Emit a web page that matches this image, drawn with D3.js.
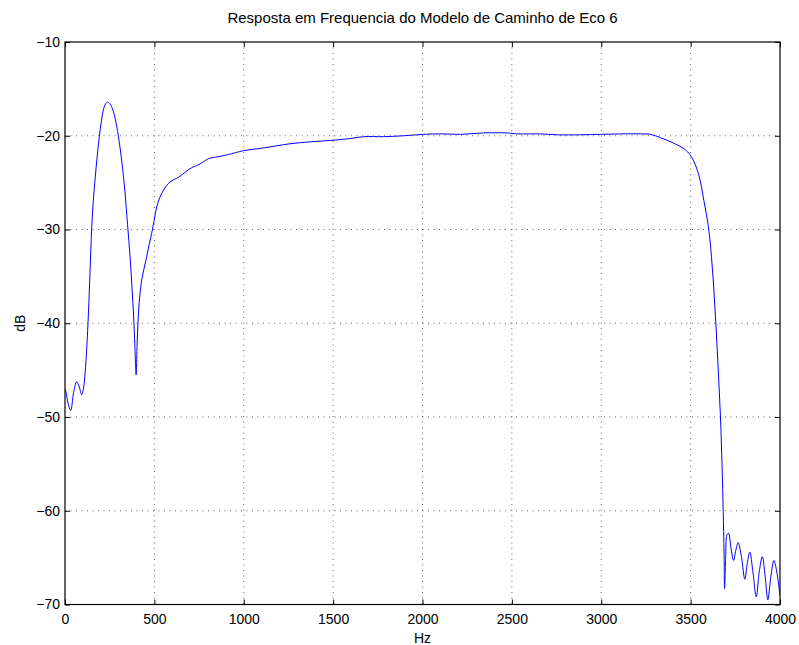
<!DOCTYPE html>
<html>
<head>
<meta charset="utf-8">
<script src="https://cdn.jsdelivr.net/npm/d3@7/dist/d3.min.js"></script>
<style>
  html, body { margin: 0; padding: 0; background: #fff; }
  svg { display: block; }
  text { font-family: "Liberation Sans", Arial, Helvetica, sans-serif; fill: #000; }
</style>
</head>
<body>
<svg id="chart" width="799" height="645"></svg>
<script>
const title = "Resposta em Frequencia do Modelo de Caminho de Eco 6";
const xLabel = "Hz";
const yLabel = "dB";
const xTicks = [0, 500, 1000, 1500, 2000, 2500, 3000, 3500, 4000];
const yTicks = [-70, -60, -50, -40, -30, -20, -10];

const freq = [0, 5, 18, 32, 48, 65, 80, 93, 103, 112, 122, 131, 140, 149, 158, 168, 180, 192, 203, 214, 227, 239, 250, 261, 280, 299, 318, 336, 350, 364, 374, 383, 391, 398, 404, 411, 420, 429, 443, 457, 471, 485, 499, 513, 530, 551, 578, 606, 625, 644, 675, 709, 735, 756, 780, 802, 835, 868, 914, 998, 1110, 1260, 1372, 1484, 1596, 1670, 1782, 1894, 2006, 2100, 2212, 2342, 2473, 2529, 2660, 2753, 2884, 2996, 3108, 3219, 3275, 3331, 3406, 3471, 3509, 3546, 3574, 3602, 3621, 3639, 3654, 3667, 3676, 3682, 3687, 3690, 3696, 3703, 3712, 3726, 3740, 3753, 3766, 3785, 3803, 3817, 3831, 3849, 3867, 3884, 3901, 3917, 3932, 3949, 3966, 3980, 3994, 4000];
const dB = [-47.0, -47.3, -48.6, -49.3, -47.4, -46.25, -46.8, -47.6, -47.0, -45.4, -42.5, -39.0, -34.5, -30.0, -27.0, -24.7, -22.2, -20.1, -18.5, -17.3, -16.6, -16.4, -16.55, -16.9, -18.1, -20.1, -22.8, -26.1, -29.5, -32.9, -36.0, -38.9, -42.5, -45.5, -42.0, -38.9, -36.8, -35.4, -34.1, -32.9, -31.6, -30.4, -29.0, -27.6, -26.6, -25.8, -25.1, -24.7, -24.55, -24.3, -23.85, -23.4, -23.2, -23.0, -22.7, -22.45, -22.3, -22.2, -22.0, -21.6, -21.3, -20.85, -20.65, -20.5, -20.3, -20.1, -20.1, -20.0, -19.85, -19.8, -19.85, -19.7, -19.7, -19.8, -19.8, -19.9, -19.9, -19.85, -19.8, -19.8, -19.85, -20.2, -20.8, -21.5, -22.4, -24.2, -26.9, -30.1, -34.0, -39.3, -44.7, -50.0, -55.3, -59.9, -64.5, -68.3, -65.0, -62.6, -62.4, -64.0, -65.3, -64.2, -63.4, -65.0, -67.3, -65.6, -64.4, -66.6, -69.2, -66.5, -64.9, -67.0, -69.5, -67.0, -65.3, -66.3, -68.1, -69.0];

const margin = { left: 65, top: 42, right: 780, bottom: 604.5 };
const svg = d3.select("#chart");

const x = d3.scaleLinear().domain([0, 4000]).range([margin.left, margin.right]);
const y = d3.scaleLinear().domain([-70, -10]).range([margin.bottom, margin.top]);

// grid
const grid = svg.append("g");
grid.selectAll(".gx").data(xTicks.slice(1, -1)).enter().append("line")
  .attr("x1", d => x(d)).attr("x2", d => x(d))
  .attr("y1", margin.top).attr("y2", margin.bottom)
  .attr("stroke", "#000").attr("stroke-width", 0.6).attr("stroke-dasharray", "1,4.5");
grid.selectAll(".gy").data(yTicks.slice(1, -1)).enter().append("line")
  .attr("y1", d => y(d)).attr("y2", d => y(d))
  .attr("x1", margin.left).attr("x2", margin.right)
  .attr("stroke", "#000").attr("stroke-width", 0.6).attr("stroke-dasharray", "1,4.5");

// clipped line
svg.append("clipPath").attr("id", "clip").append("rect")
  .attr("x", margin.left).attr("y", margin.top)
  .attr("width", margin.right - margin.left).attr("height", margin.bottom - margin.top);

const pts = freq.map((f, i) => [f, dB[i]]);
const line = d3.line().x(d => x(d[0])).y(d => y(d[1])).curve(d3.curveCatmullRom.alpha(0.5));
svg.append("path").datum(pts)
  .attr("d", line)
  .attr("fill", "none").attr("stroke", "#0000ff").attr("stroke-width", 1)
  .attr("clip-path", "url(#clip)");

// axes
const fmt = d => d < 0 ? "\u2212" + Math.abs(d) : String(d);
const tickLen = 5;
const gb = svg.append("g").attr("transform", `translate(0,${margin.bottom})`)
  .call(d3.axisBottom(x).tickValues(xTicks).tickSize(-tickLen).tickPadding(10).tickFormat(fmt));
const gt = svg.append("g").attr("transform", `translate(0,${margin.top})`)
  .call(d3.axisTop(x).tickValues(xTicks).tickSize(-tickLen).tickFormat(""));
const gl = svg.append("g").attr("transform", `translate(${margin.left},0)`)
  .call(d3.axisLeft(y).tickValues(yTicks).tickSize(-tickLen).tickPadding(5).tickFormat(fmt));
const gr = svg.append("g").attr("transform", `translate(${margin.right},0)`)
  .call(d3.axisRight(y).tickValues(yTicks).tickSize(-tickLen).tickFormat(""));
[gb, gt, gl, gr].forEach(g => {
  g.select(".domain").remove();
  g.selectAll(".tick line").attr("stroke", "#000").attr("stroke-width", 1);
  g.selectAll("text").attr("font-size", 14).attr("font-family", "'Liberation Sans', Arial, sans-serif").attr("fill", "#000");
});
svg.append("rect").attr("x", margin.left).attr("y", margin.top)
  .attr("width", margin.right - margin.left).attr("height", margin.bottom - margin.top)
  .attr("fill", "none").attr("stroke", "#000").attr("stroke-width", 1.2);

// labels
svg.append("text").attr("x", (margin.left + margin.right) / 2).attr("y", 23)
  .attr("text-anchor", "middle").attr("font-size", 15).text(title);
svg.append("text").attr("x", (margin.left + margin.right) / 2).attr("y", 643)
  .attr("text-anchor", "middle").attr("font-size", 14).text(xLabel);
svg.append("text").attr("transform", `translate(25,${(margin.top + margin.bottom) / 2}) rotate(-90)`)
  .attr("text-anchor", "middle").attr("font-size", 14).text(yLabel);
</script>
</body>
</html>
